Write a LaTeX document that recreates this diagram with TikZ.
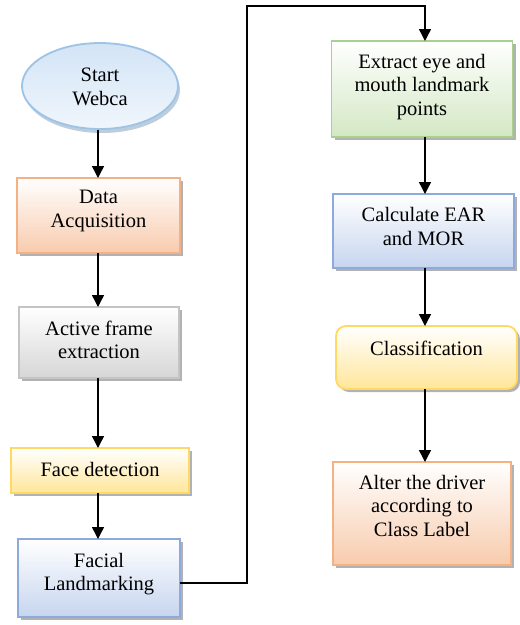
\documentclass[tikz,border=0pt]{standalone}
\usepackage{fontspec}
\setmainfont{Liberation Serif}
\usetikzlibrary{arrows.meta,shapes.geometric,shadows}
\definecolor{blueB}{HTML}{9DC3E6}
\definecolor{blueT}{HTML}{D3E4F6}
\definecolor{blueL}{HTML}{F0F6FC}
\definecolor{peachB}{HTML}{F4B183}
\definecolor{peachF}{HTML}{F8CBAD}
\definecolor{grayB}{HTML}{C4C4C4}
\definecolor{grayF}{HTML}{D6D6D6}
\definecolor{yelB}{HTML}{FFD966}
\definecolor{yelF}{HTML}{FFE699}
\definecolor{lbB}{HTML}{8EAADB}
\definecolor{lbF}{HTML}{C6D5EF}
\definecolor{grB}{HTML}{A9D18E}
\definecolor{grF}{HTML}{D3E8C4}
\newcommand{\tx}[2][0pt]{\raisebox{#1}[0pt][0pt]{\begin{tabular}{@{}c@{}}#2\end{tabular}}}
\begin{document}
\begin{tikzpicture}[x=1pt,y=-1pt,
  font=\fontsize{20.5}{23.5}\selectfont,
  boxbase/.style={draw, line width=1.8pt, inner sep=0pt, outer sep=0pt,
    drop shadow={shadow xshift=3pt, shadow yshift=-3pt, fill=black, opacity=0.3}},
  peachbox/.style={boxbase, draw=peachB, top color=white, bottom color=peachF},
  graybox/.style={boxbase, draw=grayB, top color=white, bottom color=grayF},
  yelbox/.style={boxbase, draw=yelB, top color=white, bottom color=yelF},
  bluebox/.style={boxbase, draw=lbB, top color=white, bottom color=lbF},
  greenbox/.style={boxbase, draw=grB, top color=white, bottom color=grF},
  startshape/.style={ellipse, draw=blueB, line width=1.8pt, inner sep=0pt, outer sep=0pt,
    top color=blueT, bottom color=blueL,
    drop shadow={shadow xshift=2pt, shadow yshift=-4pt, fill=blueB!80!black, opacity=0.5}},
  flow/.style={line width=1.4pt, -{Triangle[width=12pt,length=12pt]}}
]
\useasboundingbox (0,0) rectangle (520,625);

\node[startshape, minimum width=156pt, minimum height=86pt] (start) at (100,86) {\tx[-8pt]{Start\\Webca}};
\node[peachbox, minimum width=163pt, minimum height=75pt] (acq) at (98.5,215.5) {\tx[-0.5pt]{Data\\Acquisition}};
\node[graybox, minimum width=160pt, minimum height=71pt] (act) at (99,342.5) {\tx[-5pt]{Active frame\\extraction}};
\node[yelbox, minimum width=178pt, minimum height=45pt] (face) at (100,470.5) {\tx[-6pt]{Face detection}};
\node[bluebox, minimum width=162pt, minimum height=78pt] (land) at (99,578) {\tx[-1.5pt]{Facial\\Landmarking}};

\node[greenbox, minimum width=181pt, minimum height=96pt] (ext) at (422,89) {\tx[-3pt]{Extract eye and\\mouth landmark\\points}};
\node[bluebox, minimum width=181pt, minimum height=74pt] (calc) at (423.5,231) {\tx[-3pt]{Calculate EAR\\and MOR}};
\node[yelbox, rounded corners=10pt, minimum width=181pt, minimum height=63pt] (cls) at (426.5,357.5) {\tx[1.5pt]{Classification}};
\node[peachbox, minimum width=178pt, minimum height=103pt] (alt) at (422,513.5) {\tx[0.5pt]{Alter the driver\\according to\\Class Label}};

\coordinate (top) at (247,6);

\draw[flow] (98,130) -- (98,0 |- acq.north);
\draw[flow] (98,0 |- acq.south) -- (98,0 |- act.north);
\draw[flow] (98,0 |- act.south) -- (98,0 |- face.north);
\draw[flow] (98,0 |- face.south) -- (98,0 |- land.north);
\draw[line width=1.4pt, -{Triangle[width=12pt,length=12pt]}]
  ([yshift=-5pt]land.east) -| (top) -| (425,0 |- ext.north);
\draw[flow] (425,0 |- ext.south) -- (425,0 |- calc.north);
\draw[flow] (425,0 |- calc.south) -- (425,0 |- cls.north);
\draw[flow] (425,0 |- cls.south) -- (425,0 |- alt.north);
\end{tikzpicture}
\end{document}
